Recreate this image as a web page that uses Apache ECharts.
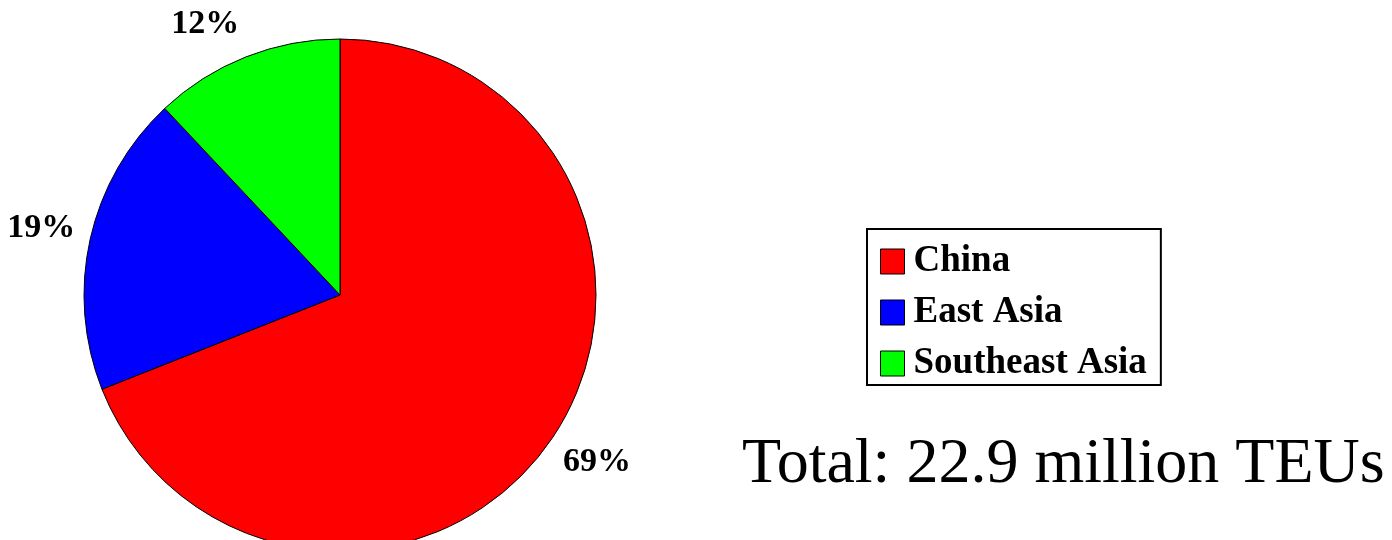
<!DOCTYPE html>
<html>
<head>
<meta charset="utf-8">
<script src="https://cdn.jsdelivr.net/npm/echarts@6/dist/echarts.min.js"></script>
<style>html,body{margin:0;padding:0;background:#fff;}#c{width:1392px;height:540px;}</style>
</head>
<body>
<div id="c"></div>
<script>
var categories = ['China', 'East Asia', 'Southeast Asia'];
var shares = [69, 19, 12];
var colors = ['#ff0000', '#0000ff', '#00ff00'];
var totalText = 'Total: 22.9 million TEUs';

var serif = '"Liberation Serif", "Times New Roman", serif';
var labelNudge = [[4, -5], [0, 0], [-22, 14]];
var data = categories.map(function (c, i) {
  return { name: c, value: shares[i], itemStyle: { color: colors[i] } };
});
var chart = echarts.init(document.getElementById('c'), null, { renderer: 'canvas' });
chart.setOption({
  animation: false,
  backgroundColor: '#fff',
  title: {
    text: totalText,
    left: 737, top: 428,
    textStyle: { fontFamily: serif, fontSize: 64, fontWeight: 'normal', color: '#000' }
  },
  legend: {
    orient: 'vertical',
    left: 867, top: 229,
    padding: [14, 14, 3, 13],
    borderColor: '#000', borderWidth: 2,
    backgroundColor: '#fff',
    itemWidth: 24, itemHeight: 25, itemGap: 14,
    icon: 'rect',
    itemStyle: { borderColor: '#000', borderWidth: 1 },
    data: categories,
    textStyle: { fontFamily: serif, fontSize: 37, fontWeight: 'bold', color: '#000', padding: [0, 0, 0, 4] }
  },
  series: [
    {
      type: 'pie',
      center: [340, 295],
      radius: 256,
      startAngle: 90,
      clockwise: true,
      data: data,
      itemStyle: { borderColor: '#000', borderWidth: 1 },
      label: { show: false },
      labelLine: { show: false },
      emphasis: { disabled: true }
    },
    {
      type: 'pie',
      center: [340, 295],
      radius: [290, 316],
      startAngle: 90,
      clockwise: true,
      silent: true,
      legendHoverLink: false,
      data: data.map(function (d, i) {
        return { name: d.name, value: d.value, itemStyle: { color: 'rgba(0,0,0,0)' }, label: { offset: labelNudge[i] } };
      }),
      itemStyle: { borderWidth: 0 },
      label: {
        show: true, position: 'inside',
        formatter: function (p) { return p.value + '%'; },
        fontFamily: serif, fontSize: 34, fontWeight: 'bold', color: '#000'
      },
      labelLine: { show: false },
      emphasis: { disabled: true }
    }
  ]
});
</script>
</body>
</html>
